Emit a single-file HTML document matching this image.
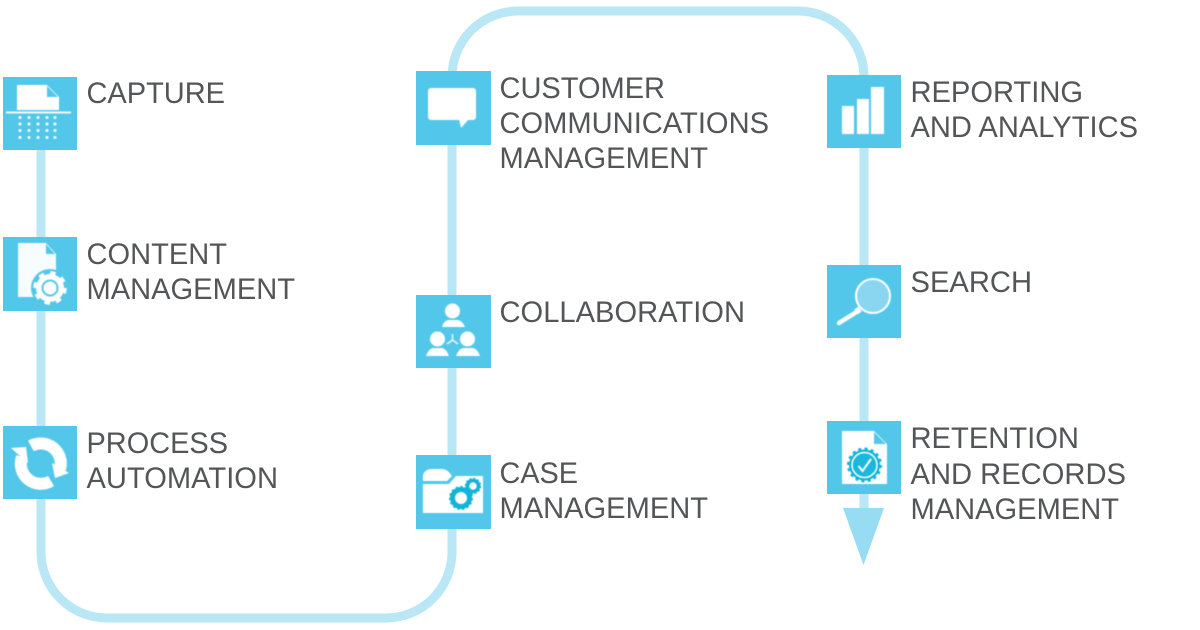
<!DOCTYPE html>
<html>
<head>
<meta charset="utf-8">
<style>
html,body{margin:0;padding:0;background:#fff;width:1200px;height:630px;overflow:hidden}
svg{display:block}
text{font-family:"Liberation Sans",sans-serif;font-size:30px;fill:#545557}
.soft{filter:blur(0.4px)}
</style>
</head>
<body>
<svg width="1200" height="630" viewBox="0 0 1200 630" xmlns="http://www.w3.org/2000/svg">
<path d="M41 150V552A66 66 0 0 0 107 618H386A66 66 0 0 0 452 552V77A66 66 0 0 1 518 11H798A66 66 0 0 1 864 77V512" fill="none" stroke="#b9e7f6" stroke-width="9"/>
<polygon points="843,508 884,508 863.5,565" fill="#97dcf3"/>
<g fill="#53c7e9">
<rect x="3" y="77" width="74" height="73"/>
<rect x="3" y="237" width="74" height="74"/>
<rect x="3" y="426" width="74" height="73"/>
<rect x="416" y="71" width="75" height="74"/>
<rect x="416" y="295" width="75" height="73"/>
<rect x="416" y="455" width="75" height="74"/>
<rect x="827" y="75" width="74" height="73"/>
<rect x="827" y="265" width="74" height="73"/>
<rect x="827" y="421" width="74" height="73"/>
</g>

<g class="soft">
<!-- Capture -->
<polygon points="17,85 47,85 59,97 59,110 17,110" fill="#fff"/>
<polygon points="47,86 58,97 47,97" fill="#53c7e9"/>
<rect x="6" y="111.500" width="65" height="2" fill="#f2fbfe"/>
<g fill="#fff">
<circle cx="20" cy="117.500" r="1.500"/><circle cx="29" cy="117.500" r="1.500"/><circle cx="38" cy="117.500" r="1.500"/><circle cx="47" cy="117.500" r="1.500"/><circle cx="55" cy="117.500" r="1.500"/>
<circle cx="20" cy="124" r="1.500"/><circle cx="29" cy="124" r="1.500"/><circle cx="38" cy="124" r="1.500"/><circle cx="47" cy="124" r="1.500"/><circle cx="55" cy="124" r="1.500"/>
<circle cx="20" cy="130.500" r="1.500"/><circle cx="29" cy="130.500" r="1.500"/><circle cx="38" cy="130.500" r="1.500"/><circle cx="47" cy="130.500" r="1.500"/><circle cx="55" cy="130.500" r="1.500"/>
<circle cx="20" cy="137.500" r="1.500"/><circle cx="29" cy="137.500" r="1.500"/><circle cx="38" cy="137.500" r="1.500"/><circle cx="47" cy="137.500" r="1.500"/><circle cx="55" cy="137.500" r="1.500"/>
</g>

<!-- Content -->
<polygon points="18,243 46,243 56,254 56,297 18,297" fill="#f7fcfe"/>
<polygon points="46,244 55,254 46,254" fill="#53c7e9"/>
<circle cx="50" cy="288" r="19" fill="#53c7e9"/>
<circle cx="50" cy="288" r="14" fill="#fff"/>
<circle cx="50" cy="288" r="15" fill="none" stroke="#fff" stroke-width="3.500" stroke-dasharray="5.500 6.280"/>
<circle cx="50" cy="288" r="7.500" fill="#fff" stroke="#53c7e9" stroke-width="2"/>

<!-- Process -->
<g fill="none" stroke="#fff" stroke-width="12">
<path d="M31 446A20 20 0 0 1 60 469"/>
<path d="M51 481A20 20 0 0 1 22 457"/>
</g>
<polygon points="52,463 69,473 55,478" fill="#fff"/>
<polygon points="11,448 26,447 28,463" fill="#fff"/>

<!-- Customer communications -->
<rect x="428" y="88" width="48" height="32" rx="3" fill="#fff"/>
<polygon points="459,119 461,128 469,119" fill="#fff"/>

<!-- Collaboration -->
<g fill="#fff">
<circle cx="452.500" cy="311" r="7.500"/>
<path d="M442 327Q444 320 449 320H457Q462 320 465 327Z"/>
<circle cx="437.500" cy="339" r="7.500"/>
<path d="M426 356Q429 348 434 348H441Q446 348 449 356Z"/>
<circle cx="467.500" cy="339" r="7.500"/>
<path d="M456 356Q459 348 464 348H472Q477 348 480 356Z"/>
</g>
<path d="M452.500 340V334M452.500 340L447 344M452.500 340L458 344" stroke="#e8f8fc" stroke-width="1.500" fill="none"/>

<!-- Case -->
<path d="M423 481V475Q425 469 432 469H443Q447 469 452 476L447 481Z" fill="#fff"/>
<polygon points="423,484 449,484 456,476 483,476 483,513 423,513" fill="#fff"/>
<circle cx="461" cy="498" r="8.500" fill="none" stroke="#10b4d8" stroke-width="5"/>
<circle cx="461" cy="498" r="10.500" fill="none" stroke="#10b4d8" stroke-width="3" stroke-dasharray="2.200 2.200"/>
<circle cx="473" cy="486" r="5.500" fill="none" stroke="#10b4d8" stroke-width="3.500"/>
<circle cx="473" cy="486" r="7" fill="none" stroke="#10b4d8" stroke-width="2.500" stroke-dasharray="2 1.660"/>

<!-- Reporting -->
<g fill="#fff">
<rect x="842" y="106" width="12" height="28"/>
<rect x="857" y="99" width="12" height="35"/>
<rect x="871" y="87" width="13" height="47"/>
</g>

<!-- Search -->
<circle cx="873" cy="296" r="17" fill="#8ad6f0" stroke="#fff" stroke-width="2"/>
<path d="M860 309L856 312" stroke="#fff" stroke-width="6"/>
<path d="M855 313L839 323" stroke="#fff" stroke-width="4.500" stroke-linecap="round"/>

<!-- Retention -->
<polygon points="842,431 874,431 887,444 887,484 842,484" fill="#fff"/>
<polygon points="874,432 886,444 874,444" fill="#53c7e9"/>
<circle cx="864.500" cy="465" r="15.500" fill="#10b4d8"/>
<circle cx="864.500" cy="465" r="16" fill="none" stroke="#10b4d8" stroke-width="3" stroke-dasharray="3 3.280"/>
<circle cx="864.500" cy="465" r="12.500" fill="#1bb8db" stroke="#fff" stroke-width="1.500"/>
<path d="M858.500 466L862.500 471L871 459" fill="none" stroke="#fff" stroke-width="2"/>
</g>

<!-- Labels -->
<g>
<text x="86.500" y="103" textLength="138.500" lengthAdjust="spacingAndGlyphs">CAPTURE</text>
<text x="86.500" y="264" textLength="140.500" lengthAdjust="spacingAndGlyphs">CONTENT</text>
<text x="86.500" y="299" textLength="208.500" lengthAdjust="spacingAndGlyphs">MANAGEMENT</text>
<text x="86.500" y="453" textLength="141.500" lengthAdjust="spacingAndGlyphs">PROCESS</text>
<text x="86.500" y="488" textLength="191.500" lengthAdjust="spacingAndGlyphs">AUTOMATION</text>
<text x="499.500" y="98" textLength="165.500" lengthAdjust="spacingAndGlyphs">CUSTOMER</text>
<text x="499.500" y="133" textLength="269.500" lengthAdjust="spacingAndGlyphs">COMMUNICATIONS</text>
<text x="499.500" y="168" textLength="208.500" lengthAdjust="spacingAndGlyphs">MANAGEMENT</text>
<text x="499.500" y="322" textLength="245.500" lengthAdjust="spacingAndGlyphs">COLLABORATION</text>
<text x="499.500" y="483" textLength="78.500" lengthAdjust="spacingAndGlyphs">CASE</text>
<text x="499.500" y="518" textLength="208.500" lengthAdjust="spacingAndGlyphs">MANAGEMENT</text>
<text x="910.500" y="102" textLength="172.500" lengthAdjust="spacingAndGlyphs">REPORTING</text>
<text x="910.500" y="137" textLength="227.500" lengthAdjust="spacingAndGlyphs">AND ANALYTICS</text>
<text x="910.500" y="292" textLength="121.500" lengthAdjust="spacingAndGlyphs">SEARCH</text>
<text x="910.500" y="448" textLength="168.500" lengthAdjust="spacingAndGlyphs">RETENTION</text>
<text x="910.500" y="484" textLength="215.500" lengthAdjust="spacingAndGlyphs">AND RECORDS</text>
<text x="910.500" y="519" textLength="208.500" lengthAdjust="spacingAndGlyphs">MANAGEMENT</text>
</g>
</svg>
</body>
</html>
